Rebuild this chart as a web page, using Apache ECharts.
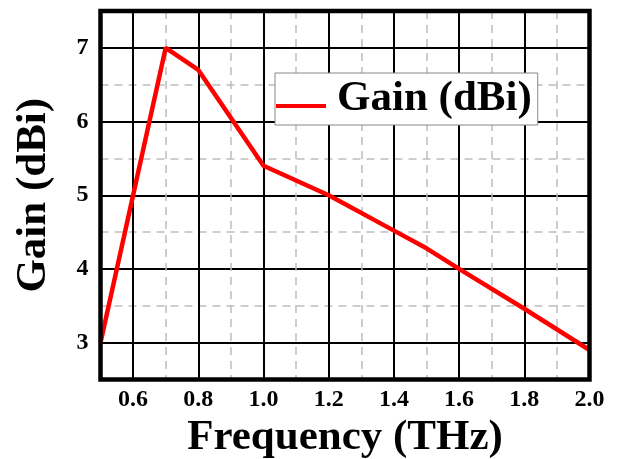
<!DOCTYPE html>
<html>
<head>
<meta charset="utf-8">
<script src="https://cdn.jsdelivr.net/npm/echarts@6/dist/echarts.min.js"></script>
<style>
html,body{margin:0;padding:0;background:#fff;}
#chart{width:618px;height:459px;}
</style>
</head>
<body>
<div id="chart"></div>
<script>
// Data
var frequency = [0.5, 0.7, 0.8, 1.0, 1.2, 1.4, 1.5, 1.6, 1.8, 2.0];
var gain      = [3.0, 7.0, 6.7, 5.4, 5.0, 4.52, 4.28, 4.0, 3.46, 2.9];
var seriesName = 'Gain (dBi)';
var xTickLabels = ['0.6', '0.8', '1.0', '1.2', '1.4', '1.6', '1.8', '2.0'];
var yTickLabels = ['3', '4', '5', '6', '7'];
var xTitle = 'Frequency (THz)';
var yTitle = 'Gain (dBi)';

var FONT = "'Liberation Serif', 'Times New Roman', 'DejaVu Serif', serif";
var T = 'rgba(0,0,0,0)';

var chart = echarts.init(document.getElementById('chart'), null, {renderer: 'canvas'});

var points = frequency.map(function (f, i) { return [f, gain[i]]; });

function xFmt(v) { var s = v.toFixed(1); return xTickLabels.indexOf(s) >= 0 ? s : ''; }
function yFmt(v) { var s = String(Math.round(v)); return (Math.abs(v - Math.round(v)) < 1e-6 && yTickLabels.indexOf(s) >= 0) ? s : ''; }

var option = {
  backgroundColor: '#fff',
  animation: false,
  grid: {
    left: 100.5, right: 28.5, top: 11, bottom: 79.5,
    containLabel: false, outerBoundsMode: 'none',
    show: true, borderColor: '#000', borderWidth: 4.5, backgroundColor: 'transparent', z: 5
  },
  legend: {
    data: [seriesName],
    left: 275, top: 73,
    padding: [4, 6, 4, 1],
    backgroundColor: '#fff',
    borderColor: '#888', borderWidth: 1,
    icon: 'path://M0,0L0.01,0L0.01,0.01Z M0,14L50,14L50,18L0,18Z',
    itemWidth: 50, itemHeight: 18,
    itemStyle: {color: '#ff0000'},
    textStyle: {fontFamily: FONT, fontWeight: 'bold', fontSize: 43, color: '#000', lineHeight: 44, padding: [0, 0, 0, 6]}
  },
  xAxis: [
    {
      type: 'value', min: 0.5, max: 2.0, interval: 0.1,
      name: xTitle, nameLocation: 'middle', nameGap: 37,
      nameTextStyle: {fontFamily: FONT, fontWeight: 'bold', fontSize: 43, color: '#000'},
      axisLine: {show: false}, axisTick: {show: false},
      axisLabel: {formatter: xFmt, margin: 8, fontFamily: FONT, fontWeight: 'bold', fontSize: 24, color: '#000'},
      splitLine: {show: true, lineStyle: {color: [T, '#000'], width: 2, type: 'solid'}}
    },
    {
      type: 'value', min: 0.5, max: 2.0, interval: 0.1,
      axisLine: {show: false}, axisTick: {show: false}, axisLabel: {show: false},
      splitLine: {show: true, lineStyle: {color: ['#bdbdbd', T], width: 1.5, type: [8, 6]}}
    }
  ],
  yAxis: [
    {
      type: 'value', min: 2.5, max: 7.5, interval: 0.5,
      name: yTitle, nameLocation: 'middle', nameGap: 45,
      nameTextStyle: {fontFamily: FONT, fontWeight: 'bold', fontSize: 43, color: '#000'},
      axisLine: {show: false}, axisTick: {show: false},
      axisLabel: {formatter: yFmt, margin: 12, fontFamily: FONT, fontWeight: 'bold', fontSize: 24, color: '#000'},
      splitLine: {show: true, lineStyle: {color: [T, '#000'], width: 2, type: 'solid'}}
    },
    {
      type: 'value', min: 2.5, max: 7.5, interval: 0.5,
      axisLine: {show: false}, axisTick: {show: false}, axisLabel: {show: false},
      splitLine: {show: true, lineStyle: {color: ['#bdbdbd', T], width: 1.5, type: [8, 6]}}
    }
  ],
  series: [
    {
      name: seriesName,
      type: 'line',
      xAxisIndex: 0, yAxisIndex: 0,
      data: points,
      symbol: 'none',
      smooth: false,
      lineStyle: {color: '#ff0000', width: 4.5},
      itemStyle: {color: '#ff0000'},
      z: 3
    }
  ]
};
chart.setOption(option);
</script>
</body>
</html>
